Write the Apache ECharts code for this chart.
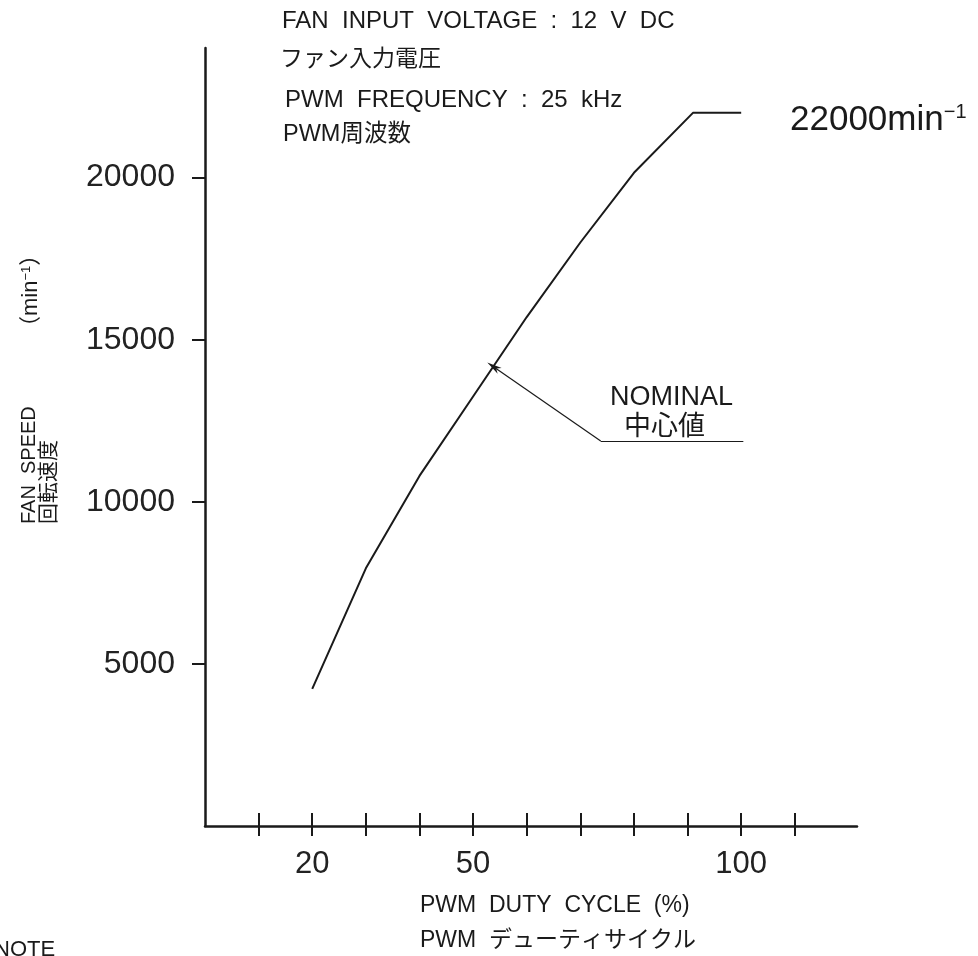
<!DOCTYPE html>
<html><head><meta charset="utf-8">
<script src="https://cdn.jsdelivr.net/npm/echarts@6/dist/echarts.min.js"></script>
<style>html,body{margin:0;padding:0;background:#fff}#c{width:978px;height:956px}</style>
</head><body><div id="c"></div>
<script>
// ---- data ----
const dutyCycle = [20, 30, 40, 50, 60, 70, 80, 91, 100];
const fanSpeed  = [4230, 7950, 10800, 13250, 15700, 18000, 20150, 22000, 22000];
const xTickValues  = [10, 20, 30, 40, 50, 60, 70, 80, 90, 100, 110];
const xLabelValues = [20, 50, 100];
const yTickValues  = [5000, 10000, 15000, 20000];
const nominalLeader = [[53.8, 14170], [73.8, 11880], [100.4, 11880]];

const FONT = "'Liberation Sans','Noto Sans CJK JP',sans-serif";
const INK = '#1a1a1a';

const chart = echarts.init(document.getElementById('c'), null, {renderer: 'canvas'});

const seriesData = dutyCycle.map((d, i) => [d, fanSpeed[i]]);

function txt(x, y, text, size, extra) {
  return Object.assign({
    type: 'text', x: x, y: y, silent: true,
    style: {text: text, fontSize: size, fontFamily: FONT, fill: INK, align: 'left', verticalAlign: 'middle'}
  }, extra || {});
}

const option = {
  animation: false,
  backgroundColor: '#fff',
  grid: {left: 205, right: 121, top: 48, bottom: 130, containLabel: false},
  xAxis: [{
    type: 'value', min: 0, max: 121.6, interval: 10, position: 'bottom',
    axisLine: {show: true, onZero: false, lineStyle: {color: INK, width: 2.5}},
    axisTick: {show: true, inside: false, length: 10, customValues: xTickValues, lineStyle: {color: INK, width: 2}},
    axisLabel: {show: true, margin: 23, customValues: xLabelValues, fontSize: 31, fontFamily: FONT, color: '#222',
      formatter: v => String(v)},
    splitLine: {show: false}
  }, {
    type: 'value', min: 0, max: 121.6, interval: 10, position: 'bottom', offset: 0,
    axisLine: {show: false},
    axisTick: {show: true, inside: true, length: 13, customValues: xTickValues, lineStyle: {color: INK, width: 2}},
    axisLabel: {show: false},
    splitLine: {show: false}
  }],
  yAxis: {
    type: 'value', min: 0, max: 24000, interval: 5000,
    axisLine: {show: true, onZero: false, lineStyle: {color: INK, width: 2.5}},
    axisTick: {show: true, inside: false, length: 13, customValues: yTickValues, lineStyle: {color: INK, width: 2}},
    axisLabel: {show: true, margin: 30, customValues: yTickValues, fontSize: 32, fontFamily: FONT, color: '#222',
      formatter: v => String(v)},
    splitLine: {show: false}
  },
  series: [{
    type: 'line', xAxisIndex: 0, yAxisIndex: 0,
    data: seriesData, symbol: 'none', smooth: false,
    lineStyle: {color: INK, width: 2},
    silent: true,
    markLine: {
      silent: true, animation: false,
      symbol: ['none', 'none'],
      label: {show: false},
      lineStyle: {color: INK, width: 1.2, type: 'solid'},
      emphasis: {disabled: true},
      data: [
        [{coord: nominalLeader[0], symbol: 'path://M0,0 L4,14 L0,10 L-4,14 Z', symbolSize: [7, 15]},
         {coord: nominalLeader[1], symbol: 'none'}],
        [{coord: nominalLeader[1], symbol: 'none'},
         {coord: nominalLeader[2], symbol: 'none'}]
      ]
    }
  }],
  graphic: [
    txt(282, 21, 'FAN  INPUT  VOLTAGE  :  12  V  DC', 24),
    txt(280, 60, 'ファン入力電圧', 23),
    txt(285, 100, 'PWM  FREQUENCY  :  25  kHz', 24),
    txt(283, 135, 'PWM周波数', 23.5),
    {
      type: 'text', x: 790, y: 120, silent: true,
      style: {
        text: '{b|22000min}{s|−1}', fontFamily: FONT, fill: INK, align: 'left', verticalAlign: 'middle',
        rich: {
          b: {fontSize: 35, fontFamily: FONT, color: INK},
          s: {fontSize: 20, fontFamily: FONT, color: INK, verticalAlign: 'top'}
        }
      }
    },
    txt(610, 398, 'NOMINAL', 27),
    txt(624, 428, '中心値', 27),
    txt(420, 906, 'PWM  DUTY  CYCLE  (%)', 23),
    txt(420, 941, 'PWM  デューティサイクル', 23),
    txt(-6, 950, 'NOTE', 22),
    txt(29, 524, 'FAN  SPEED', 20, {rotation: Math.PI / 2}),
    txt(49, 524, '回転速度', 21, {rotation: Math.PI / 2}),
    {
      type: 'text', x: 31, y: 338, rotation: Math.PI / 2, silent: true,
      style: {
        text: '{b|（min}{s|−1}{b|）}', fontFamily: FONT, fill: INK, align: 'left', verticalAlign: 'middle',
        rich: {
          b: {fontSize: 22, fontFamily: FONT, color: INK},
          s: {fontSize: 13, fontFamily: FONT, color: INK, verticalAlign: 'top'}
        }
      }
    }
  ]
};
chart.setOption(option);
</script></body></html>
